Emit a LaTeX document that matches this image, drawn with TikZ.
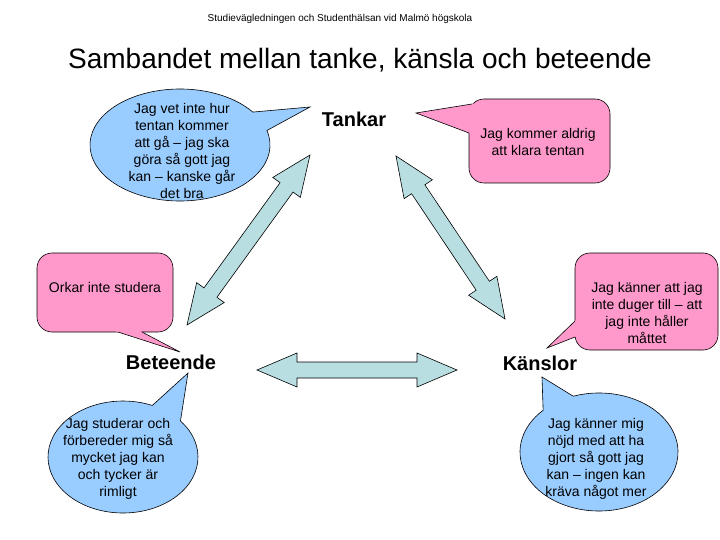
\documentclass[tikz,border=0pt]{standalone}
\usepackage{fontspec}
\setmainfont{Liberation Sans}
\usetikzlibrary{calc}
\definecolor{bubpink}{RGB}{255,153,204}
\definecolor{bubblue}{RGB}{153,204,255}
\definecolor{arrfill}{RGB}{184,222,226}
\newcommand\dblarrow[3]{%
  \coordinate (#3h1) at ($(#1)!40pt!(#2)$);
  \coordinate (#3h2) at ($(#2)!40pt!(#1)$);
  \draw[fatarrow] (#1) -- ($(#3h1)!17pt!90:(#2)$) -- ($(#3h1)!8pt!90:(#2)$)
    -- ($(#3h2)!8pt!-90:(#1)$) -- ($(#3h2)!17pt!-90:(#1)$) -- (#2)
    -- ($(#3h2)!17pt!90:(#1)$) -- ($(#3h2)!8pt!90:(#1)$)
    -- ($(#3h1)!8pt!-90:(#2)$) -- ($(#3h1)!17pt!-90:(#2)$) -- cycle;}
\newcommand\calltail[4]{%
  \fill[#4] ($(#1)!1.15!(#2)$) -- (#1) -- ($(#1)!1.15!(#3)$) -- cycle;
  \draw[outline] (#2) -- (#1) -- (#3);}
\begin{document}
\begin{tikzpicture}[x=1pt,y=-1pt,
  outline/.style={draw=black,line width=0.6pt,line join=miter},
  fatarrow/.style={outline,fill=arrfill},
  bubtext/.style={align=center,font=\fontsize{14}{17}\selectfont,inner sep=0pt},
  boldlabel/.style={font=\fontsize{20}{24}\selectfont\bfseries,anchor=base,inner sep=0pt}]
\useasboundingbox (0,0) rectangle (720,540);
\fill[white] (0,0) rectangle (720,540);

% header and title
\node[anchor=base,inner sep=0pt,font=\fontsize{10}{12}\selectfont] (header) at (340,22)
  {Studievägledningen och Studenthälsan vid Malmö högskola};
\node[anchor=base,inner sep=0pt,font=\fontsize{28}{32}\selectfont] (title) at (360,69)
  {Sambandet mellan tanke, känsla och beteende};

% arrows
\coordinate (la1) at (310,155); \coordinate (la2) at (187,325);
\coordinate (ra1) at (396,156); \coordinate (ra2) at (505,319);
\coordinate (ha1) at (257,370); \coordinate (ha2) at (457,370);
\dblarrow{la1}{la2}{l}
\dblarrow{ra1}{ra2}{r}
\dblarrow{ha1}{ha2}{h}

% labels
\node[boldlabel] (tankar) at (354,127) {Tankar};
\node[boldlabel] (beteende) at (171,369) {Beteende};
\node[boldlabel] (kanslor) at (540,370) {Känslor};

% top-left blue bubble
\coordinate (tltip) at (310,107);
\draw[outline,fill=bubblue] (180,145) ++(-15:90 and 56)
  arc[start angle=-15,end angle=324,x radius=90,y radius=56] -- (tltip) -- cycle;
\node[bubtext] (tltext) at (182,151)
  {Jag vet inte hur\\tentan kommer\\att gå – jag ska\\göra så gott jag\\kan – kanske går\\det bra};

% bottom-left blue bubble
\coordinate (bltip) at (188,373);
\draw[outline,fill=bubblue] (123,457) ++(-40:75 and 56)
  arc[start angle=-40,end angle=293,x radius=75,y radius=56] -- (bltip) -- cycle;
\node[bubtext] (bltext) at (118,459)
  {Jag studerar och\\förbereder mig så\\mycket jag kan\\och tycker är\\rimligt};

% bottom-right blue bubble
\coordinate (brtip) at (542,377);
\draw[outline,fill=bubblue] (599,452) ++(251:79 and 59)
  arc[start angle=251,end angle=585,x radius=79,y radius=59] -- (brtip) -- cycle;
\node[bubtext] (brtext) at (596,459)
  {Jag känner mig\\nöjd med att ha\\gjort så gott jag\\kan – ingen kan\\kräva något mer};

% top-right pink bubble
\draw[outline,fill=bubpink,rounded corners=15pt] (469,99) rectangle (610,183);
\coordinate (trtip) at (416,113);
\coordinate (trb1) at (472,104); \coordinate (trb2) at (469,133);
\calltail{trtip}{trb1}{trb2}{bubpink}
\node[bubtext] (trtext) at (538,142) {Jag kommer aldrig\\att klara tentan};

% left pink bubble
\draw[outline,fill=bubpink,rounded corners=15pt] (37,253) rectangle (173,332);
\coordinate (lptip) at (180,352);
\coordinate (lpb1) at (118,332); \coordinate (lpb2) at (142,332);
\calltail{lptip}{lpb1}{lpb2}{bubpink}
\node[bubtext] (lptext) at (105,287) {Orkar inte studera};

% right pink bubble
\draw[outline,fill=bubpink,rounded corners=15pt] (575,253) rectangle (718,350);
\coordinate (rptip) at (547,348);
\coordinate (rpb1) at (575,321); \coordinate (rpb2) at (575,337);
\calltail{rptip}{rpb1}{rpb2}{bubpink}
\node[bubtext] (rptext) at (647,313)
  {Jag känner att jag\\inte duger till – att\\jag inte håller\\måttet};
\end{tikzpicture}
\end{document}
